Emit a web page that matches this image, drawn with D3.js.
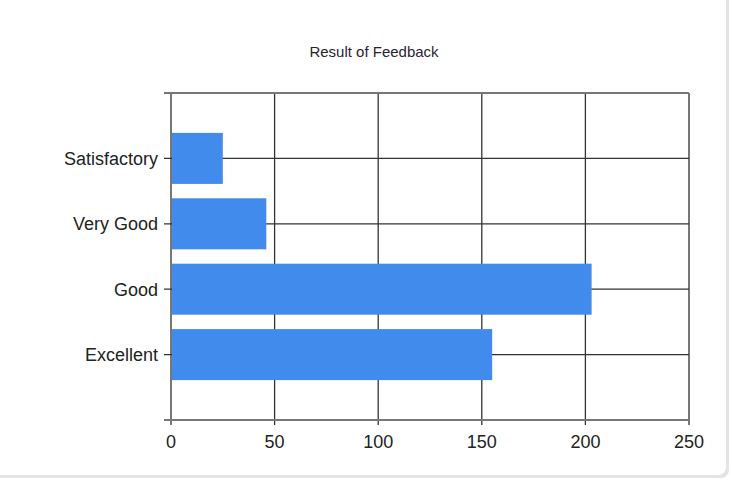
<!DOCTYPE html>
<html lang="en">
<head>
  <meta charset="UTF-8">
  <title>Result of Feedback</title>
  <script src="https://d3js.org/d3.v7.min.js"></script>
  <style>
    body {
      margin: 0;
      background: #fff;
      font-family: "Liberation Sans", Arial, sans-serif;
    }
    svg {
      display: block;
    }
  </style>
</head>
<body>
  <svg width="733" height="485"></svg>
  <script>
    const categories = ["Excellent", "Good", "Very Good", "Satisfactory"];
    const values = [155, 203, 46, 25];
    const xTicks = [0, 50, 100, 150, 200, 250];

    const margin = { top: 93, right: 44, bottom: 65, left: 171 },
          width = 733 - margin.left - margin.right,
          height = 485 - margin.top - margin.bottom;

    const svg = d3.select("svg");

    // card shadow on bottom / right edges
    svg.append("rect")
      .attr("x", -10).attr("y", -10)
      .attr("width", 739).attr("height", 488)
      .attr("rx", 8)
      .attr("fill", "#e4e4e4");
    svg.append("rect")
      .attr("x", -10).attr("y", -10)
      .attr("width", 736).attr("height", 485)
      .attr("rx", 8)
      .attr("fill", "#fff");

    svg.append("text")
      .attr("x", 374)
      .attr("y", 57)
      .attr("text-anchor", "middle")
      .attr("font-size", 15)
      .attr("fill", "#2a1f33")
      .text("Result of Feedback");

    const g = svg.append("g")
      .attr("transform", `translate(${margin.left},${margin.top})`);

    const x = d3.scaleLinear().domain([0, 250]).range([0, width]);
    // category slots 1..4, empty slot at 0 and 5
    const y = d3.scaleLinear().domain([0, categories.length + 1]).range([height, 0]);
    const step = height / (categories.length + 1);
    const barH = step * 0.78;

    // vertical grid lines
    g.selectAll(".vgrid")
      .data(xTicks)
      .join("line")
      .attr("class", "vgrid")
      .attr("x1", d => x(d)).attr("x2", d => x(d))
      .attr("y1", 0).attr("y2", height + 5)
      .attr("stroke", d => d === 0 || d === 250 ? "#777" : "#333")
      .attr("stroke-width", d => d === 0 || d === 250 ? 2 : 1.3);

    // horizontal grid lines at categories + top edge
    const yPos = d3.range(1, categories.length + 2);
    g.selectAll(".hgrid")
      .data(yPos)
      .join("line")
      .attr("class", "hgrid")
      .attr("x1", -7).attr("x2", width)
      .attr("y1", d => y(d)).attr("y2", d => y(d))
      .attr("stroke", d => d === categories.length + 1 ? "#777" : "#333")
      .attr("stroke-width", d => d === categories.length + 1 ? 2 : 1.3);

    g.selectAll(".bar")
      .data(values)
      .join("rect")
      .attr("class", "bar")
      .attr("x", x(0) + 1)
      .attr("y", (d, i) => y(i + 1) - barH / 2)
      .attr("width", d => x(d) - x(0) - 1)
      .attr("height", barH)
      .attr("fill", "#418bed");

    // bottom axis line
    g.append("line")
      .attr("x1", -7).attr("x2", width + 1)
      .attr("y1", height).attr("y2", height)
      .attr("stroke", "#777")
      .attr("stroke-width", 2);

    g.selectAll(".xlabel")
      .data(xTicks)
      .join("text")
      .attr("class", "xlabel")
      .attr("x", d => x(d))
      .attr("y", height + 28)
      .attr("text-anchor", "middle")
      .attr("font-size", 18)
      .attr("fill", "#222")
      .text(d => d);

    g.selectAll(".ylabel")
      .data(categories)
      .join("text")
      .attr("class", "ylabel")
      .attr("x", -13)
      .attr("y", (d, i) => y(i + 1))
      .attr("dy", "0.35em")
      .attr("text-anchor", "end")
      .attr("font-size", 18)
      .attr("fill", "#222")
      .text(d => d);
  </script>
</body>
</html>
